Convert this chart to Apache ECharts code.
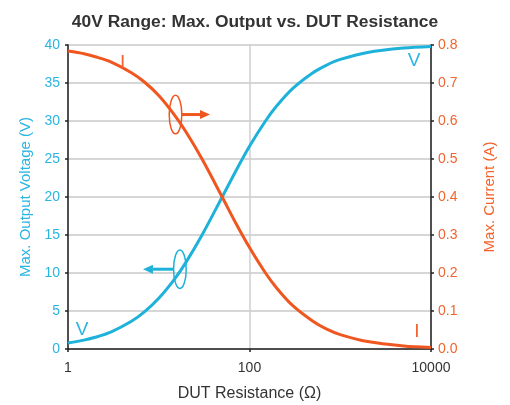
<!DOCTYPE html>
<html>
<head>
<meta charset="utf-8">
<script src="https://cdn.jsdelivr.net/npm/echarts@6/dist/echarts.min.js"></script>
<style>html,body{margin:0;padding:0;background:#fff}#c{width:510px;height:405px}</style>
</head>
<body>
<div id="c"></div>
<script>
var resistance = [1, 1.5, 2, 3, 5, 7, 10, 15, 20, 30, 50, 70, 100, 150, 200, 300, 500, 700, 1000, 2000, 5000, 10000];
var voltage = [0.78, 1.17, 1.54, 2.26, 3.64, 4.91, 6.67, 9.23, 11.43, 15.0, 20.0, 23.33, 26.67, 30.0, 32.0, 34.29, 36.36, 37.33, 38.1, 39.02, 39.6, 39.8];
var current = [0.784, 0.777, 0.769, 0.755, 0.727, 0.702, 0.667, 0.615, 0.571, 0.5, 0.4, 0.333, 0.267, 0.2, 0.16, 0.114, 0.073, 0.053, 0.038, 0.0195, 0.0079, 0.004];
var xTicks = [1, 100, 10000];
var voltTicks = [0, 5, 10, 15, 20, 25, 30, 35, 40];
var currTicks = [0.0, 0.1, 0.2, 0.3, 0.4, 0.5, 0.6, 0.7, 0.8];

var BLUE = '#1eb2da', RED = '#f0561f';
var BLUE_T = '#2ab5e2', RED_T = '#f2642e';
var FONT = '"Liberation Sans", Arial, Helvetica, sans-serif';

var chart = echarts.init(document.getElementById('c'), null, {renderer: 'canvas'});
var vData = resistance.map(function (r, i) { return [r, voltage[i]]; });
var iData = resistance.map(function (r, i) { return [r, current[i]]; });

chart.setOption({
  animation: false,
  backgroundColor: '#fff',
  title: {
    text: '40V Range: Max. Output vs. DUT Resistance',
    left: 250, top: 9, textAlign: 'center',
    textStyle: {fontFamily: FONT, fontSize: 17.4, fontWeight: 'bold', color: '#333'}
  },
  grid: {left: 68, right: 79, top: 45, bottom: 56, containLabel: false, outerBoundsMode: 'none'},
  xAxis: {
    type: 'log', logBase: 100, min: xTicks[0], max: xTicks[xTicks.length - 1],
    name: 'DUT Resistance (\u03A9)', nameLocation: 'middle', nameGap: 37,
    nameTextStyle: {fontFamily: FONT, fontSize: 16, color: '#333'},
    axisLine: {show: true, lineStyle: {color: '#222', width: 1.5}},
    axisTick: {show: true, inside: false, length: 3, lineStyle: {color: '#222', width: 1.5}},
    axisLabel: {fontFamily: FONT, fontSize: 14, color: '#333', margin: 12,
      formatter: function (v) { return String(Math.round(v)); }},
    splitLine: {show: true, lineStyle: {color: '#cfcfcf', width: 1.5}},
    minorTick: {show: false}
  },
  yAxis: [{
    type: 'value', min: voltTicks[0], max: voltTicks[voltTicks.length - 1], interval: 5,
    position: 'left',
    name: 'Max. Output Voltage (V)', nameLocation: 'middle', nameGap: 35, nameRotate: 90,
    nameTextStyle: {fontFamily: FONT, fontSize: 15, color: BLUE_T},
    axisLine: {show: true, lineStyle: {color: '#222', width: 1.5}},
    axisTick: {show: true, inside: false, length: 3, lineStyle: {color: '#222', width: 1.5}},
    axisLabel: {fontFamily: FONT, fontSize: 14, color: BLUE_T, margin: 8},
    splitLine: {show: true, lineStyle: {color: '#c8c8c8', width: 1.5}}
  }, {
    type: 'value', min: currTicks[0], max: currTicks[currTicks.length - 1], interval: 0.1,
    position: 'right',
    name: 'Max. Current (A)', nameLocation: 'middle', nameGap: 51, nameRotate: 90,
    nameTextStyle: {fontFamily: FONT, fontSize: 15, color: RED_T},
    axisLine: {show: true, lineStyle: {color: '#222', width: 1.5}},
    axisTick: {show: true, inside: false, length: 3, lineStyle: {color: '#222', width: 1.5}},
    axisLabel: {fontFamily: FONT, fontSize: 14, color: RED_T, margin: 7,
      formatter: function (v) { return v.toFixed(1); }},
    splitLine: {show: false}
  }],
  series: [{
    name: 'V', type: 'line', yAxisIndex: 0, data: vData, smooth: 0.3,
    showSymbol: false, lineStyle: {color: BLUE, width: 3}, z: 3
  }, {
    name: 'I', type: 'line', yAxisIndex: 1, data: iData, smooth: 0.3,
    showSymbol: false, lineStyle: {color: RED, width: 3}, z: 3
  }]
});

// Annotations anchored in data space
function px(x, y, axis) {
  return chart.convertToPixel({xAxisIndex: 0, yAxisIndex: axis}, [x, y]);
}
var g = [];
function label(txt, x, y, axis, color) {
  var p = px(x, y, axis);
  g.push({type: 'text', x: p[0], y: p[1], z: 10,
    style: {text: txt, fill: color, font: '19px ' + FONT, textAlign: 'center', textVerticalAlign: 'middle'}});
}
label('I', 4.0, 0.752, 1, RED_T);
label('V', 1.43, 2.5, 0, BLUE_T);
label('V', 6500, 37.9, 0, BLUE_T);
label('I', 7000, 0.045, 1, RED_T);

function marker(cx, cy, axis, tipX, color) {
  var c = px(cx, cy, axis);
  var t = px(tipX, cy, axis);
  g.push({type: 'ellipse', z: 10, shape: {cx: c[0], cy: c[1], rx: 6.3, ry: 19.3},
    style: {fill: 'none', stroke: color, lineWidth: 1.5}});
  var dir = t[0] > c[0] ? 1 : -1;
  var start = c[0] + dir * 6;
  var headBase = t[0] - dir * 10;
  g.push({type: 'line', z: 10, shape: {x1: start, y1: c[1], x2: headBase, y2: c[1]},
    style: {stroke: color, lineWidth: 3}});
  g.push({type: 'polygon', z: 10, shape: {points: [[t[0], c[1]], [headBase, c[1] - 4.5], [headBase, c[1] + 4.5]]},
    style: {fill: color}});
}
marker(15.3, 0.617, 1, 36.7, RED);
marker(17.1, 10.5, 0, 6.7, BLUE);

chart.setOption({graphic: g});
</script>
</body>
</html>
